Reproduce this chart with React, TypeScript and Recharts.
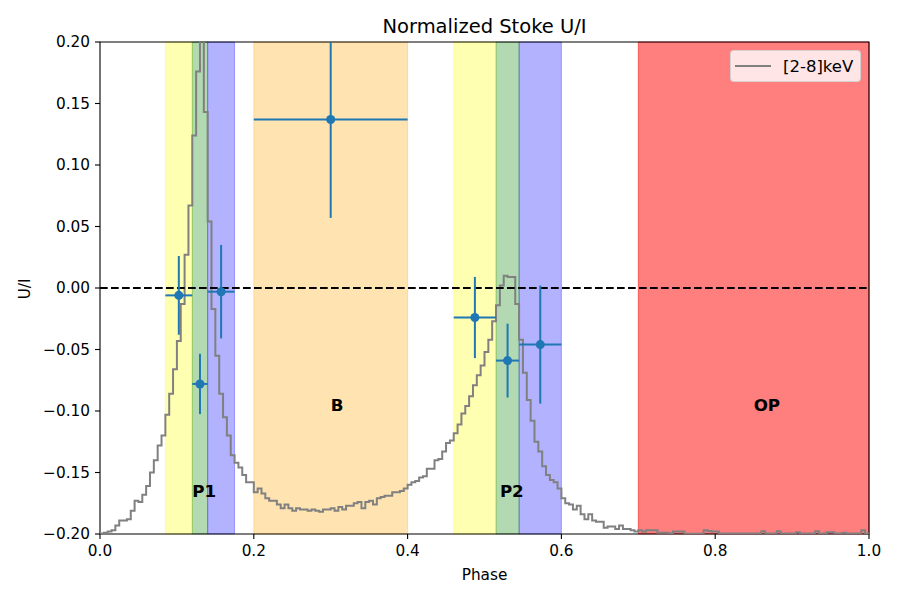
import {
  ComposedChart,
  Line,
  Scatter,
  XAxis,
  YAxis,
  ReferenceArea,
  ReferenceLine,
  ErrorBar,
  Legend,
} from "recharts";

// pulse profile, 200 phase bins, already rescaled onto the U/I axis
const profile = [
  -0.1995, -0.199, -0.198, -0.197, -0.193, -0.189, -0.189, -0.188, -0.181, -0.173,
  -0.174, -0.168, -0.161, -0.15, -0.14, -0.128, -0.12, -0.103, -0.086, -0.066,
  -0.043, -0.013, 0.027, 0.067, 0.124, 0.176, 0.26, 0.143, 0.054, -0.017,
  -0.055, -0.086, -0.105, -0.12, -0.136, -0.142, -0.146, -0.152, -0.158, -0.158,
  -0.166, -0.163, -0.167, -0.171, -0.173, -0.173, -0.176, -0.179, -0.176, -0.179,
  -0.181, -0.179, -0.18, -0.18, -0.181, -0.18, -0.181, -0.182, -0.18, -0.18,
  -0.179, -0.181, -0.178, -0.18, -0.177, -0.177, -0.175, -0.174, -0.179, -0.174,
  -0.173, -0.176, -0.171, -0.17, -0.169, -0.169, -0.166, -0.166, -0.165, -0.163,
  -0.16, -0.158, -0.157, -0.154, -0.153, -0.147, -0.147, -0.14, -0.139, -0.133,
  -0.126, -0.124, -0.118, -0.111, -0.102, -0.096, -0.088, -0.079, -0.071, -0.063,
  -0.052, -0.042, -0.027, -0.014, 0.002, 0.01, 0.009, 0.009, -0.013, -0.042,
  -0.069, -0.091, -0.108, -0.125, -0.133, -0.145, -0.152, -0.156, -0.158, -0.163,
  -0.171, -0.175, -0.176, -0.18, -0.177, -0.184, -0.188, -0.184, -0.189, -0.19,
  -0.19, -0.195, -0.194, -0.194, -0.196, -0.193, -0.196, -0.196, -0.197, -0.198,
  -0.197, -0.198, -0.197, -0.197, -0.197, -0.199, -0.199, -0.199, -0.1995, -0.198,
  -0.198, -0.198, -0.1998, -0.1998, -0.1998, -0.1998, -0.1998, -0.197, -0.1975, -0.198,
  -0.198, -0.1995, -0.1995, -0.1995, -0.1995, -0.1995, -0.1995, -0.1995, -0.1995, -0.1995,
  -0.1995, -0.1995, -0.1978, -0.1995, -0.1995, -0.1995, -0.1978, -0.1995, -0.1995, -0.1995,
  -0.1995, -0.1985, -0.1995, -0.1995, -0.1995, -0.1995, -0.1978, -0.1995, -0.1995, -0.1985,
  -0.1985, -0.1995, -0.1995, -0.199, -0.1995, -0.1995, -0.1995, -0.1995, -0.197, -0.1995,
];

// polarisation points per phase interval
const pointPhase = [0.1025, 0.13, 0.1575, 0.3, 0.4875, 0.53, 0.5725];
const pointPhaseErr = [0.0175, 0.01, 0.0175, 0.1, 0.0275, 0.015, 0.0275];
const pointUI = [-0.006, -0.078, -0.003, 0.137, -0.024, -0.059, -0.046];
const pointUIErr = [0.032, 0.0245, 0.038, 0.08, 0.033, 0.03, 0.048];

const regionStart = [0.085, 0.12, 0.14, 0.2, 0.46, 0.515, 0.545, 0.7];
const regionEnd = [0.12, 0.14, 0.175, 0.4, 0.515, 0.545, 0.6, 1.0];
const regionColor = ["#ffff00", "#008000", "#0000ff", "#ffa500", "#ffff00", "#008000", "#0000ff", "#ff0000"];
const regionAlpha = [0.3, 0.3, 0.3, 0.3, 0.3, 0.3, 0.3, 0.5];

const labelText = ["P1", "B", "P2", "OP"];
const labelPhase = [0.12, 0.3, 0.52, 0.85];
const labelUI = [-0.17, -0.1, -0.17, -0.1];

const phaseTicks = [0, 0.2, 0.4, 0.6, 0.8, 1.0];
const uiTicks = [-0.2, -0.15, -0.1, -0.05, 0, 0.05, 0.1, 0.15, 0.2];
const legendLabel = "[2-8]keV";

const UI_MIN = -0.2;
const UI_MAX = 0.2;

const nBins = profile.length;
const histData = [
  ...profile.map((v, i) => ({ phase: i / nBins, ui: v })),
  { phase: 1, ui: profile[nBins - 1] },
];

// error bars are not clipped by recharts, so trim them at the axis limits
const pointData = pointPhase.map((p, i) => ({
  phase: p,
  ui: pointUI[i],
  ex: pointPhaseErr[i],
  ey: [
    Math.min(pointUIErr[i], pointUI[i] - UI_MIN),
    Math.min(pointUIErr[i], UI_MAX - pointUI[i]),
  ],
}));

const labelData = labelText.map((t, i) => ({ phase: labelPhase[i], ui: labelUI[i], text: t }));

const fmt = (v: number, d: number) => (v < 0 ? "\u2212" + Math.abs(v).toFixed(d) : v.toFixed(d));

const tickStyle = { fill: "#000", fontSize: 15.3 };
const BLUE = "#1f77b4";

function LegendBox({ payload }: any) {
  const item = (payload || []).find((p: any) => p.type !== "none");
  return (
    <div
      style={{
        width: 131,
        height: 32,
        boxSizing: "border-box",
        background: "rgba(255,255,255,0.8)",
        border: "1px solid rgba(204,204,204,0.8)",
        borderRadius: 4,
        display: "flex",
        alignItems: "center",
        fontSize: 16.5,
        color: "#000",
      }}
    >
      <svg width={36} height={4} style={{ marginLeft: 4, flex: "none" }}>
        <line x1={0} y1={2} x2={36} y2={2} stroke="gray" strokeWidth={2} />
      </svg>
      <span style={{ marginLeft: 12, whiteSpace: "nowrap" }}>{item ? item.value : legendLabel}</span>
    </div>
  );
}

export default function App() {
  return (
    <div
      style={{
        position: "absolute",
        left: 0,
        top: 0,
        width: 900,
        height: 600,
        fontFamily: '"DejaVu Sans", sans-serif',
        background: "#fff",
      }}
    >
      <ComposedChart width={900} height={600} margin={{ top: 42, right: 31, bottom: 0, left: 0 }}>
        <XAxis
          type="number"
          dataKey="phase"
          domain={[0, 1]}
          ticks={phaseTicks}
          tickFormatter={(v) => fmt(v, 1)}
          height={66}
          tickSize={5}
          tickMargin={6}
          axisLine={false}
          tickLine={{ stroke: "#000", strokeWidth: 1.1 }}
          tick={tickStyle}
          allowDataOverflow
        />
        <YAxis
          type="number"
          dataKey="ui"
          domain={[UI_MIN, UI_MAX]}
          ticks={uiTicks}
          tickFormatter={(v) => fmt(v, 2)}
          width={100}
          tickSize={5}
          tickMargin={5}
          axisLine={false}
          tickLine={{ stroke: "#000", strokeWidth: 1.1 }}
          tick={tickStyle}
          allowDataOverflow
        />
        {regionStart.map((x1, i) => (
          <ReferenceArea
            key={i}
            x1={x1}
            x2={regionEnd[i]}
            y1={UI_MIN}
            y2={UI_MAX}
            fill={regionColor[i]}
            fillOpacity={regionAlpha[i]}
            stroke={regionColor[i]}
            strokeOpacity={regionAlpha[i]}
            strokeWidth={1}
          />
        ))}
        <Line
          data={histData}
          dataKey="ui"
          name={legendLabel}
          type="stepAfter"
          stroke="gray"
          strokeWidth={2}
          dot={false}
          activeDot={false}
          isAnimationActive={false}
        />
        <ReferenceLine y={0} stroke="#000" strokeWidth={2} strokeDasharray="7.7 3.3" />
        <Scatter data={pointData} fill={BLUE} legendType="none" isAnimationActive={false}>
          <ErrorBar dataKey="ex" direction="x" width={0} stroke={BLUE} strokeWidth={2} />
          <ErrorBar dataKey="ey" direction="y" width={0} stroke={BLUE} strokeWidth={2} />
        </Scatter>
        <Scatter
          data={labelData}
          legendType="none"
          isAnimationActive={false}
          shape={(p: any) => (
            <text x={p.cx} y={p.cy} fontSize={16.7} fontWeight="bold" fill="#000">
              {p.payload.text}
            </text>
          )}
        />
        <ReferenceArea x1={0} x2={1} y1={UI_MIN} y2={UI_MAX} fill="none" stroke="#000" strokeWidth={1.1} />
        <Legend
          layout="horizontal"
          verticalAlign="middle"
          align="center"
          content={LegendBox}
          wrapperStyle={{ position: "absolute", left: 730, top: 50, width: 131 }}
        />
      </ComposedChart>
      <div
        style={{
          position: "absolute",
          left: 100,
          width: 769,
          top: 34 - 0.928 * 19.5,
          textAlign: "center",
          fontSize: 19.5,
          lineHeight: 1.164,
        }}
      >
        Normalized Stoke U/I
      </div>
      <div
        style={{
          position: "absolute",
          left: 100,
          width: 769,
          top: 581 - 0.928 * 15.3,
          textAlign: "center",
          fontSize: 15.3,
          lineHeight: 1.164,
        }}
      >
        Phase
      </div>
      <div
        style={{
          position: "absolute",
          left: 25.5 - 50,
          top: 288.7 - 8.9,
          width: 100,
          textAlign: "center",
          fontSize: 15.3,
          lineHeight: 1.164,
          transform: "rotate(-90deg)",
        }}
      >
        U/I
      </div>
    </div>
  );
}
